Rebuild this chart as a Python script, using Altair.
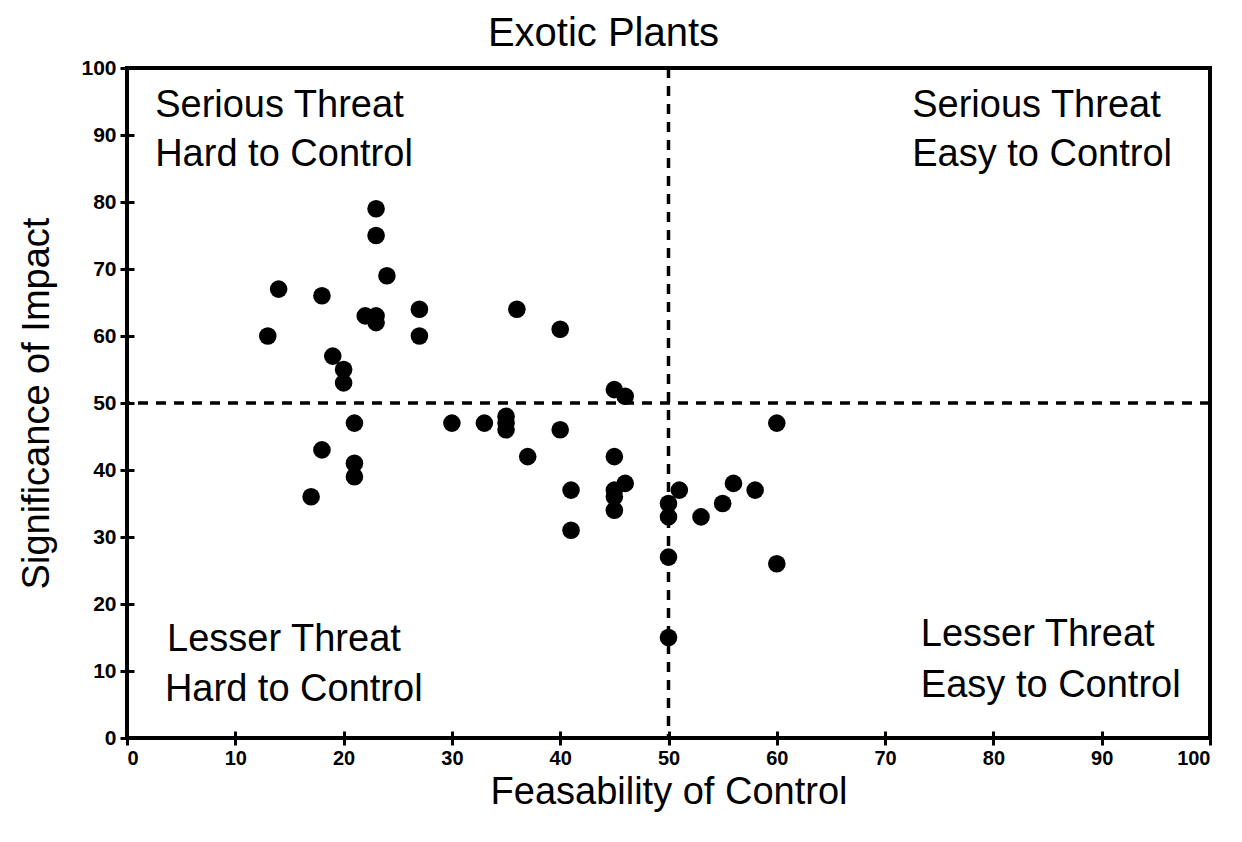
import altair as alt
import pandas as pd

# Data
feasibility = [13, 14, 18, 19, 20, 20, 22, 23, 23, 23, 23, 24, 27, 27,
               18, 17, 21, 21, 21, 30, 33, 35, 35, 35, 36, 37, 40, 40,
               41, 41, 45, 46, 45, 45, 45, 45, 46, 50, 50, 50, 50, 51,
               53, 55, 56, 58, 60, 60]
impact = [60, 67, 66, 57, 55, 53, 63, 63, 62, 79, 75, 69, 64, 60,
          43, 36, 47, 41, 39, 47, 47, 48, 47, 46, 64, 42, 61, 46,
          37, 31, 52, 51, 42, 37, 36, 34, 38, 35, 33, 27, 15, 37,
          33, 35, 38, 37, 47, 26]

quad_x = [2.6, 2.6, 72.5, 72.5, 3.7, 3.5, 73.3, 73.3]
quad_y = [94.3, 87.0, 94.3, 87.0, 14.7, 7.2, 15.3, 7.8]
quad_text = ["Serious Threat", "Hard to Control", "Serious Threat", "Easy to Control",
             "Lesser Threat", "Hard to Control", "Lesser Threat", "Easy to Control"]

divider_x = [50]
divider_y = [50]
ticks = [0, 10, 20, 30, 40, 50, 60, 70, 80, 90, 100]

FONT = "Liberation Sans"

pts = pd.DataFrame({"x": feasibility, "y": impact})
quads = pd.DataFrame({"x": quad_x, "y": quad_y, "t": quad_text})
vdf = pd.DataFrame({"x": divider_x})
hdf = pd.DataFrame({"y": divider_y})

xscale = alt.Scale(domain=[0, 100], nice=False, zero=False)
yscale = alt.Scale(domain=[0, 100], nice=False, zero=False)

xaxis = alt.Axis(values=ticks, title="Feasability of Control", grid=False, domain=False,
                 offset=-7, tickSize=14, tickWidth=3, tickColor="black",
                 labelPadding=3, labelFontSize=20, labelFontWeight="bold", labelFont=FONT,
                 labelColor="black", titleFont=FONT, titleFontSize=38, titleFontWeight="normal",
                 titleColor="black", titlePadding=5)
yaxis = alt.Axis(values=ticks, title="Significance of Impact", grid=False, domain=False,
                 offset=-7, tickSize=14, tickWidth=3, tickColor="black",
                 labelPadding=4, labelFontSize=21, labelFontWeight="bold", labelFont=FONT,
                 labelColor="black", titleFont=FONT, titleFontSize=38, titleFontWeight="normal",
                 titleColor="black", titlePadding=24)

points = alt.Chart(pts).mark_circle(size=310, color="black", opacity=1).encode(
    x=alt.X("x:Q", scale=xscale, axis=xaxis),
    y=alt.Y("y:Q", scale=yscale, axis=yaxis),
)

vline = alt.Chart(vdf).mark_rule(color="black", strokeWidth=3.5, strokeDash=[10, 8]).encode(
    x=alt.X("x:Q", scale=xscale)
)
hline = alt.Chart(hdf).mark_rule(color="black", strokeWidth=3.5, strokeDash=[10, 8]).encode(
    y=alt.Y("y:Q", scale=yscale)
)

labels = alt.Chart(quads).mark_text(align="left", baseline="middle", font=FONT,
                                    fontSize=38, color="black").encode(
    x=alt.X("x:Q", scale=xscale),
    y=alt.Y("y:Q", scale=yscale),
    text="t:N",
)

chart = alt.layer(vline, hline, points, labels).properties(
    width=1083, height=670,
    background="white",
    title=alt.TitleParams("Exotic Plants", font=FONT, fontSize=40, fontWeight="normal",
                          color="black", anchor="middle", dx=-65, offset=3),
    autosize=alt.AutoSizeParams(type="none"),
    padding={"left": 119, "top": 60, "right": 20, "bottom": 90},
).configure_view(stroke="black", strokeWidth=4)

chart.save("out.html", embed_options={"renderer": "svg", "actions": False})
